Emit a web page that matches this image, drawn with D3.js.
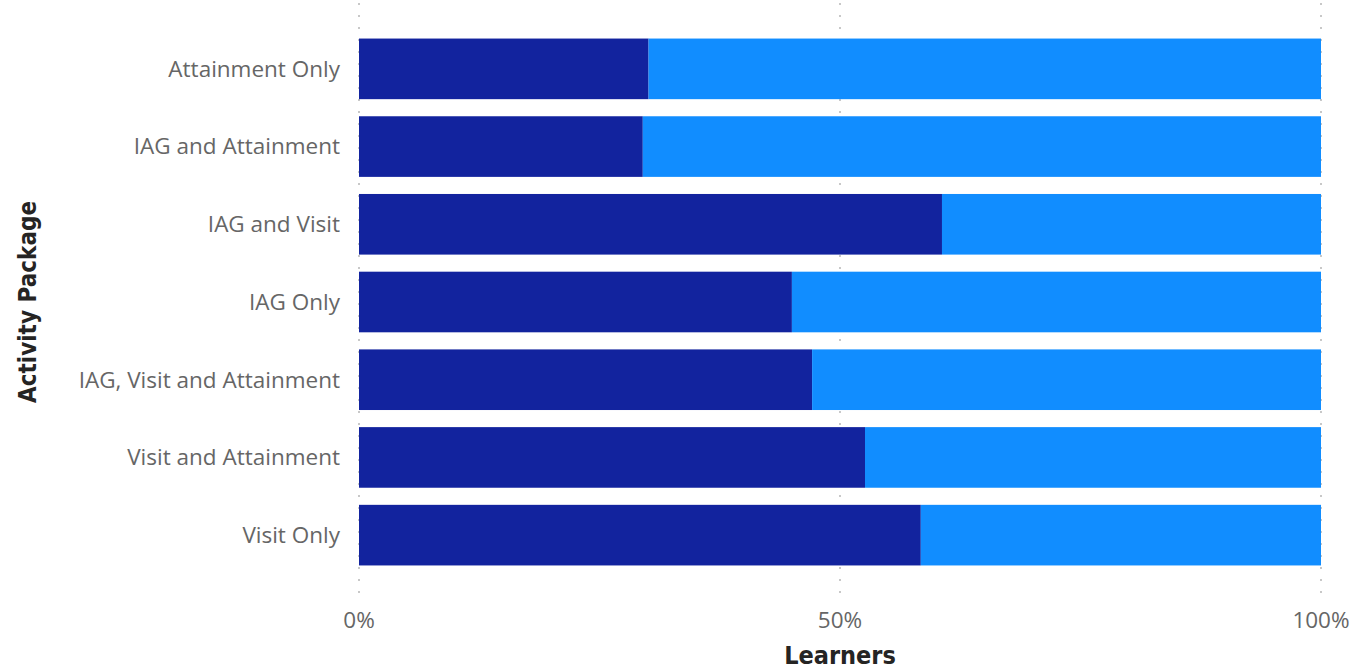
<!DOCTYPE html>
<html><head><meta charset="utf-8">
<script src="https://cdn.jsdelivr.net/npm/d3@7"></script>
<style>
html,body{margin:0;padding:0;background:#fff;}
svg{display:block;}
</style></head>
<body>
<svg id="chart" width="1353" height="670"></svg>
<script>
const categories = ["Attainment Only","IAG and Attainment","IAG and Visit","IAG Only","IAG, Visit and Attainment","Visit and Attainment","Visit Only"];
const seriesA = [30.1, 29.5, 60.6, 45.0, 47.1, 52.6, 58.4];
const seriesB = [69.9, 70.5, 39.4, 55.0, 52.9, 47.4, 41.6];
const xTicks = [0, 50, 100];
const xTickLabels = ["0%", "50%", "100%"];
const colors = ["#12239E", "#118DFF"];

const svg = d3.select("#chart");
const x = d3.scaleLinear().domain([0,100]).range([359,1321]);
const y = d3.scaleBand().domain(categories).range([30,574]).paddingInner(0.22).paddingOuter(0.11);

// gridlines
svg.append("g").selectAll("line").data(xTicks).join("line")
  .attr("x1", d=>x(d)).attr("x2", d=>x(d))
  .attr("y1", 3).attr("y2", 600)
  .attr("stroke", "#c8c8c8").attr("stroke-width", 2)
  .attr("stroke-dasharray", "2,10");

const rows = categories.map((c,i)=>({c, a: seriesA[i], b: seriesB[i]}));
const g = svg.append("g");
g.selectAll("rect.a").data(rows).join("rect").attr("class","a")
  .attr("x", x(0)).attr("y", d=>y(d.c))
  .attr("width", d=>x(d.a)-x(0)).attr("height", y.bandwidth())
  .attr("fill", colors[0]);
g.selectAll("rect.b").data(rows).join("rect").attr("class","b")
  .attr("x", d=>x(d.a)).attr("y", d=>y(d.c))
  .attr("width", d=>x(d.a+d.b)-x(d.a)).attr("height", y.bandwidth())
  .attr("fill", colors[1]);

// y axis labels
svg.append("g").selectAll("text").data(categories).join("text")
  .attr("x", 340).attr("y", d=>y(d)+y.bandwidth()/2)
  .attr("dy","0.35em").attr("text-anchor","end")
  .attr("font-family","'Open Sans', 'Noto Sans', sans-serif").attr("font-size", 22.5)
  .attr("fill","#666666").text(d=>d);

// x axis labels
svg.append("g").selectAll("text").data(xTicks).join("text")
  .attr("x", d=>x(d)).attr("y", 628)
  .attr("text-anchor","middle")
  .attr("font-family","'Open Sans', 'Noto Sans', sans-serif").attr("font-size", 22.5)
  .attr("fill","#666666").text((d,i)=>xTickLabels[i]);

// axis titles
svg.append("text").attr("x", 840).attr("y", 664).attr("text-anchor","middle")
  .attr("font-family","'DejaVu Sans Condensed', 'DejaVu Sans', sans-serif").attr("font-weight","bold")
  .attr("font-size", 25).attr("fill","#252423").text("Learners");
svg.append("text").attr("transform","translate(36,302) rotate(-90)").attr("text-anchor","middle")
  .attr("font-family","'DejaVu Sans Condensed', 'DejaVu Sans', sans-serif").attr("font-weight","bold")
  .attr("font-size", 24).attr("fill","#252423").text("Activity Package");
</script>
</body></html>
